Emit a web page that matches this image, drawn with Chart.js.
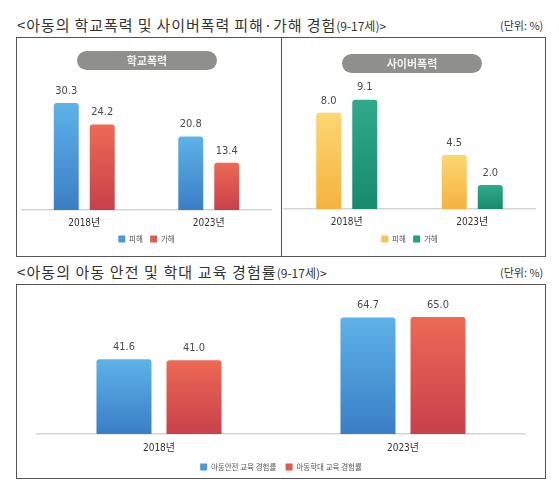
<!DOCTYPE html>
<html>
<head>
<meta charset="utf-8">
<script src="https://cdn.jsdelivr.net/npm/chart.js@4.4.0/dist/chart.umd.min.js"></script>
<style>
body { margin: 0; background: #fff; width: 559px; height: 497px; position: relative; overflow: hidden; font-family: "Noto Sans CJK KR", sans-serif; }
.title { position: absolute; left: 17px; font-size: 15px; color: #333; letter-spacing: 0.9px; white-space: nowrap; line-height: 18px; }
.title small { font-size: 12px; letter-spacing: 0; }
.unit { position: absolute; left: 500px; font-size: 11px; color: #333; line-height: 14px; }
.box { position: absolute; box-sizing: border-box; border: 1px solid #555; }
.pill { position: absolute; background: #8f8f8b; color: #f0f0f0; border-radius: 10px; font-size: 11px; font-weight: bold; text-align: center; line-height: 19px; height: 19px; }
canvas { position: absolute; }
</style>
</head>
<body>
<div class="title" style="top:16px">&lt;아동의 학교폭력 및 사이버폭력 피해·가해 경험<small>(9-17세)&gt;</small></div>
<div class="unit" style="top:18px">(단위: %)</div>
<div class="box" style="left:16px;top:37px;width:266px;height:220px"></div>
<div class="box" style="left:281px;top:37px;width:265px;height:220px"></div>
<canvas id="school" width="263" height="218" style="left:17px;top:38px"></canvas>
<canvas id="cyber" width="263" height="218" style="left:282px;top:38px"></canvas>
<div class="pill" style="left:77px;top:51px;width:140px">학교폭력</div>
<div class="pill" style="left:342px;top:54px;width:140px">사이버폭력</div>

<div class="title" style="top:263px;letter-spacing:1.1px">&lt;아동의 아동 안전 및 학대 교육 경험률<small>(9-17세)&gt;</small></div>
<div class="unit" style="top:265px">(단위: %)</div>
<div class="box" style="left:16px;top:284px;width:530px;height:195px"></div>
<canvas id="edu" width="528" height="193" style="left:17px;top:285px"></canvas>

<script>
const years = ['2018년', '2023년'];
const schoolVictim = [30.3, 20.8];
const schoolOffend = [24.2, 13.4];
const cyberVictim = [8.0, 4.5];
const cyberOffend = [9.1, 2.0];
const safetyEdu = [41.6, 64.7];
const abuseEdu = [41.0, 65.0];

const numFont = '"DejaVu Sans Condensed", "Liberation Sans Narrow", "Noto Sans CJK KR", sans-serif';

// vertical gradient per bar, light at the top
function grad(top, bottom) {
    return function (ctx) {
        const chart = ctx.chart;
        if (!chart.chartArea || ctx.raw == null) return top;
        const y = chart.scales.y;
        const g = chart.ctx.createLinearGradient(0, y.getPixelForValue(ctx.raw), 0, y.getPixelForValue(0));
        g.addColorStop(0, top);
        g.addColorStop(1, bottom);
        return g;
    };
}

const valueLabels = {
    id: 'valueLabels',
    afterDatasetsDraw(chart) {
        const c = chart.ctx;
        c.save();
        c.font = '11px ' + numFont;
        c.fillStyle = '#4a4a4a';
        c.textAlign = 'center';
        c.textBaseline = 'middle';
        chart.data.datasets.forEach((ds, i) => {
            chart.getDatasetMeta(i).data.forEach((bar, j) => {
                c.fillText(ds.data[j].toFixed(1), bar.x, bar.y - 12);
            });
        });
        c.restore();
    }
};

function makeChart(id, sets, opt) {
    return new Chart(document.getElementById(id), {
        type: 'bar',
        data: {
            labels: years,
            datasets: sets.map(s => ({
                label: s.label,
                data: s.data,
                backgroundColor: grad(s.top, s.bottom),
                legendColor: s.legend,
                borderRadius: { topLeft: 3, topRight: 3 },
                borderSkipped: 'bottom',
                categoryPercentage: opt.cat,
                barPercentage: opt.bar
            }))
        },
        options: {
            responsive: false,
            animation: false,
            layout: { padding: opt.pad },
            plugins: {
                tooltip: { enabled: false },
                legend: {
                    position: 'bottom',
                    labels: {
                        boxWidth: 7,
                        boxHeight: 7,
                        padding: opt.legendPad,
                        color: '#555',
                        font: { size: 7.5, family: '"Noto Sans CJK KR", sans-serif' },
                        generateLabels(chart) {
                            return chart.data.datasets.map((ds, i) => ({
                                text: ds.label,
                                fillStyle: ds.legendColor,
                                strokeStyle: ds.legendColor,
                                lineWidth: 0,
                                fontColor: '#555',
                                datasetIndex: i
                            }));
                        }
                    }
                }
            },
            scales: {
                x: {
                    grid: { display: false, drawTicks: false, tickLength: 0 },
                    border: { display: true, color: '#d4d4d4', width: 1.5 },
                    ticks: { padding: opt.tickPad, color: '#333', font: { size: 10, family: numFont } },
                    afterFit(scale) { scale.height = opt.axisH; }
                },
                y: { display: false, min: 0, max: opt.yMax }
            }
        },
        plugins: [valueLabels]
    });
}

makeChart('school', [
    { label: '피해', data: schoolVictim, top: '#5db2e8', bottom: '#3a7ec6', legend: '#4a9ad8' },
    { label: '가해', data: schoolOffend, top: '#ec6a55', bottom: '#c9404a', legend: '#e05a50' }
], { cat: 0.578, bar: 0.694, yMax: 37.4, pad: { top: 40, left: 5, right: 9, bottom: 3.25 }, legendPad: 7.25, tickPad: 7, axisH: 18 });

makeChart('cyber', [
    { label: '피해', data: cyberVictim, top: '#fdd670', bottom: '#f5b240', legend: '#f8c452' },
    { label: '가해', data: cyberOffend, top: '#30aa8b', bottom: '#178a6d', legend: '#23a080' }
], { cat: 0.574, bar: 0.694, yMax: 10.9, pad: { top: 40, left: 2, right: 10, bottom: 3.25 }, legendPad: 7.25, tickPad: 7, axisH: 19 });

makeChart('edu', [
    { label: '아동안전 교육 경험률', data: safetyEdu, top: '#5db2e8', bottom: '#3a7ec6', legend: '#4a9ad8' },
    { label: '아동학대 교육 경험률', data: abuseEdu, top: '#ec6a55', bottom: '#c9404a', legend: '#e05a50' }
], { cat: 0.574, bar: 0.786, yMax: 71.7, pad: { top: 20, left: 20, right: 20, bottom: -2.75 }, legendPad: 9.25, tickPad: 8, axisH: 20 });
</script>
</body>
</html>
